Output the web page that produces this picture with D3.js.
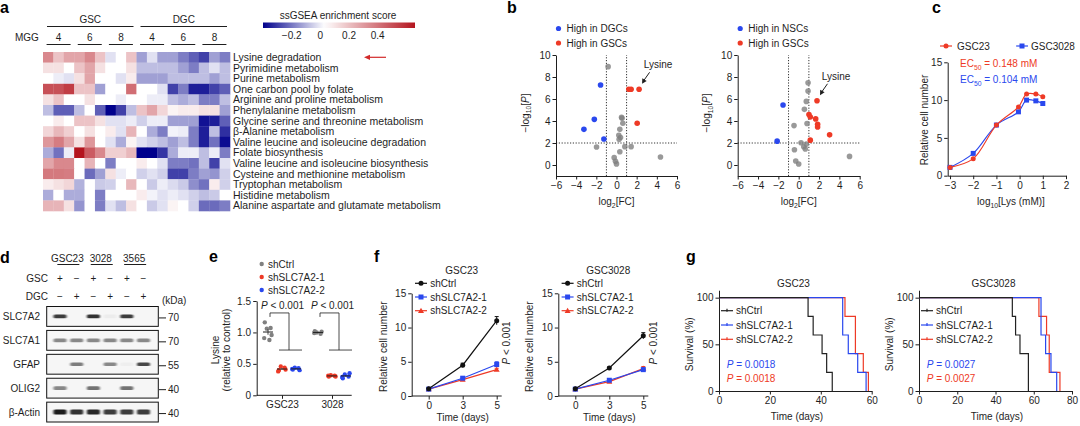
<!DOCTYPE html>
<html><head><meta charset="utf-8">
<script src="https://cdn.jsdelivr.net/npm/d3@7"></script>
<style>
html,body{margin:0;padding:0;background:#fff;}
svg{display:block;font-family:"Liberation Sans",Arial,Helvetica,sans-serif;}
</style></head><body>
<svg id="chart" width="1080" height="426"></svg>
<script>
// ================= DATA =================
// Panel a – ssGSEA heatmap
const pathways = ["Lysine degradation","Pyrimidine metabolism","Purine metabolism","One carbon pool by folate",
 "Arginine and proline metabolism","Phenylalanine metabolism","Glycine serine and threonine metabolism",
 "β-Alanine metabolism","Valine leucine and isoleucine degradation","Folate biosynthesis",
 "Valine leucine and isoleucine biosynthesis","Cysteine and methionine metabolism","Tryptophan metabolism",
 "Histidine metabolism","Alanine aspartate and glutamate metabolism"];
const heatGroups = ["GSC","DGC"];
const heatLines = ["4","6","8","4","6","8"];
const heatValues = [
 [0.35,0.19,0.27,0.27,0.35,0.19,-0.02,0.03,0.19,-0.13,-0.02,-0.13,-0.13,-0.19,-0.24,-0.29,-0.13,-0.19],
 [0.11,0.11,0.03,0.19,0.27,0.11,0.03,0.03,0.11,-0.08,-0.08,-0.08,-0.08,-0.13,-0.19,-0.08,-0.02,-0.08],
 [0.03,0.0,-0.02,0.11,0.27,0.03,0.03,-0.02,0.08,-0.13,-0.13,-0.13,-0.08,-0.08,-0.08,-0.08,-0.13,-0.08],
 [0.50,0.50,0.55,0.19,0.19,-0.13,0.03,0.03,0.42,0.03,0.03,-0.02,-0.29,-0.19,-0.35,-0.35,-0.29,-0.24],
 [0.11,0.19,0.03,0.03,0.11,0.03,0.03,0.0,0.03,0.03,0.0,0.0,-0.08,-0.11,-0.08,-0.19,-0.19,-0.08],
 [-0.08,-0.24,-0.24,-0.08,0.03,-0.24,-0.4,-0.29,-0.08,0.19,0.27,0.14,0.06,0.08,0.08,0.11,0.11,-0.13],
 [0.03,0.08,0.03,0.19,0.19,0.11,-0.02,-0.02,0.0,-0.05,0.0,0.0,-0.13,-0.13,-0.13,-0.37,-0.35,-0.24],
 [0.14,0.22,0.16,0.03,0.11,0.03,0.08,-0.02,0.23,0.03,-0.11,-0.19,0.01,0.0,-0.19,-0.35,-0.08,-0.32],
 [0.31,0.38,0.27,0.11,0.31,0.03,-0.02,-0.11,0.06,-0.02,-0.05,-0.08,-0.13,-0.08,-0.19,-0.35,-0.21,-0.38],
 [-0.11,-0.21,0.0,0.66,0.47,0.35,0.16,0.16,0.22,-0.4,-0.4,-0.31,-0.11,0.0,0.0,-0.08,0.0,-0.19],
 [0.27,0.35,0.35,0.03,0.23,0.03,-0.19,0.03,0.03,0.08,0.03,-0.02,-0.19,-0.19,-0.21,-0.08,-0.29,-0.02],
 [0.39,0.39,0.38,0.03,-0.22,-0.13,0.11,0.0,0.03,-0.05,-0.02,-0.05,-0.29,-0.29,-0.19,-0.13,-0.15,-0.05],
 [0.08,0.11,0.14,-0.1,0.03,-0.06,-0.05,0.03,0.22,0.03,-0.06,0.0,-0.03,-0.06,-0.16,-0.21,0.08,-0.05],
 [-0.11,0.03,-0.11,-0.11,0.03,-0.19,0.03,0.03,0.03,0.08,0.01,-0.02,0.0,-0.02,-0.05,-0.08,-0.06,0.03],
 [0.23,0.23,0.11,-0.15,0.03,-0.19,-0.02,-0.08,0.11,0.03,-0.06,-0.02,0.06,0.03,-0.05,-0.22,-0.22,-0.19]
];
const cbTicks = [-0.2,0,0.2,0.4];

// Panel b – volcano plots [log2 FC, -log10 P]
const volDGC_high = [[-1.58,7.27],[-2.2,4.15],[-3.23,3.24],[-1.25,2.36]];
const volDGC_gsc  = [[1.22,6.88],[1.45,6.88],[2.24,6.88],[2.05,3.8]];
const volDGC_ns   = [[-0.83,8.94],[0.5,4.33],[0.55,4.25],[0.63,3.8],[0.33,3.24],[0.23,2.7],[0.4,2.5],[0.26,2.33],
                     [-1.98,1.64],[0.83,1.67],[1.45,1.67],[0.33,1.21],[-0.23,0.67],[-0.1,0.33],[0,0.1],[4.36,0.73]];
const volNSC_high = [[-1.54,5.45],[-2.12,2.17]];
const volNSC_gsc  = [[1.8,5.84],[1.01,4.58],[1.14,4.37],[1.67,4.19],[1.86,3.7],[1.86,3.46],[3.04,2.74],[1.14,2.26]];
const volNSC_ns   = [[0.92,7.47],[0.92,6.72],[0.75,5.78],[0.56,5.06],[0.82,3.77],[-0.46,3.58],[0.23,2.02],[0.75,1.9],
                     [0.65,1.45],[-0.42,1.39],[-0.29,0.36],[0,0.09],[5,0.78],[0.5,1.66]];
const volTicksX = [-6,-4,-2,0,2,4,6];
const volTicksY = [0,2,4,6,8,10];

// Panel c – dose response
const lysLog = [-3,-2,-1,-0.05,0.3,0.7,1];
const doseGSC23 = [1.1,2.25,6.7,9.1,10.8,10.8,10.45];
const doseGSC3028 = [1.1,2.95,6.7,8.45,10.0,9.9,9.55];
const doseTicksX = [-3,-2,-1,0,1,2];
const ec50GSC23 = "0.148", ec50GSC3028 = "0.104";

// Panel d – western blot
const blotLines = ["GSC23","3028","3565"];
const gscRow = ["+","−","+","−","+","−"];
const dgcRow = ["−","+","−","+","−","+"];
const blotProteins = ["SLC7A2","SLC7A1","GFAP","OLIG2","β-Actin"];
const blotKDa = ["70","70","55","40","40"];
const blotIntensity = [
 [0.85,0,0.9,0.04,0.85,0],
 [0.5,0.5,0.5,0.5,0.5,0.5],
 [0,0.55,0,0.5,0.03,0.8],
 [0.5,0,0.6,0,0.6,0],
 [1,0.9,0.95,0.85,0.85,0.85]
];

// Panel e – lysine uptake
const eGroups = ["shCtrl","shSLC7A2-1","shSLC7A2-2"];
const eLines = ["GSC23","3028"];
const eTicksY = [0,0.5,1,1.5];
const eTickLabels = ["0","0.5","1.0","1.5"];
const lysCtrl23 = [1.16,1.07,1.06,0.96,0.91,0.88];
const lysSh1_23 = [0.40,0.44,0.46,0.41,0.38];
const lysSh2_23 = [0.41,0.43,0.44,0.40,0.42];
const lysCtrl3028 = [1.02,0.98,1.0,1.01,0.99];
const lysSh1_3028 = [0.30,0.31,0.32,0.30,0.31];
const lysSh2_3028 = [0.27,0.30,0.33,0.35,0.29];

// Panel f – growth
const days = [0,3,5];
const grow23 = {ctrl:[1.05,4.5,11.0], sh1:[1.0,2.6,4.6], sh2:[1.0,2.4,3.85]};
const grow23Err = {ctrl:[0.05,0.3,0.6], sh1:[0.05,0.15,0.4], sh2:[0.05,0.1,0.2]};
const grow3028 = {ctrl:[1.05,4.1,8.8], sh1:[1.0,2.3,3.85], sh2:[1.0,2.1,4.0]};
const grow3028Err = {ctrl:[0.05,0.15,0.45], sh1:[0.05,0.15,0.25], sh2:[0.05,0.1,0.3]};

// Panel g – survival [day, % surviving]
const km23Ctrl = [[0,100],[35,80],[37,60],[40.5,40],[42.3,20],[44.5,0]];
const km23Sh1  = [[0,100],[48.6,60],[50.8,40],[54.5,20],[57.8,0]];
const km23Sh2  = [[0,100],[49.5,80],[53.6,40],[56.7,20],[58.7,0]];
const km3028Ctrl = [[0,100],[48.8,80],[50.5,60],[52.8,40],[57.2,0]];
const km3028Sh1  = [[0,100],[63.8,60],[66.2,40],[69,20],[72,0]];
const km3028Sh2  = [[0,100],[62.7,80],[66.7,60],[68.1,20],[73.7,0]];
const kmP23 = "0.0018", kmP3028 = "0.0027";

// ================= DRAWING =================
const FONT = '"Liberation Sans", Arial, Helvetica, sans-serif';
const INK = "#1e1e1e";
const RED = "#ee3a26", BLUE = "#2a48ee", GRAY = "#808080";
const svg = d3.select("#chart");
svg.append("rect").attr("width",1080).attr("height",426).attr("fill","#fff");
const defs = svg.append("defs");

function T(g,x,y,s,o={}){
  const t=g.append("text").attr("x",x).attr("y",y).text(s)
    .attr("font-size",o.size||10).attr("fill",o.fill||INK).attr("text-anchor",o.anchor||"start");
  if(o.weight) t.attr("font-weight",o.weight);
  if(o.style) t.attr("font-style",o.style);
  if(o.rotate!=null) t.attr("transform",`rotate(${o.rotate},${x},${y})`);
  return t;
}
function rich(g,x,y,parts,o={}){
  const size=o.size||10;
  const t=g.append("text").attr("x",x).attr("y",y).attr("font-size",size)
    .attr("fill",o.fill||INK).attr("text-anchor",o.anchor||"start");
  if(o.rotate!=null) t.attr("transform",`rotate(${o.rotate},${x},${y})`);
  let shift=0;
  parts.forEach(p=>{
    const s=t.append("tspan").text(p.t);
    const want=p.sub?2.5:0;
    if(want!==shift){s.attr("dy",want-shift);shift=want;}
    if(p.sub) s.attr("font-size",size*0.68);
    if(p.i) s.attr("font-style","italic");
  });
  return t;
}
function styleAxis(a){
  a.attr("font-family",FONT).attr("font-size",10);
  a.selectAll("path.domain").attr("stroke",INK).attr("stroke-width",1);
  a.selectAll(".tick line").attr("stroke",INK).attr("stroke-width",1);
  a.selectAll(".tick text").attr("fill",INK);
  return a;
}
function panelLetter(x,y,s){ T(svg,x,y,s,{size:16,weight:"bold",fill:"#000"}); }

// ---------- Panel a ----------
(function(){
  const g=svg.append("g");
  panelLetter(0,13,"a");
  const nCols=heatValues[0].length;
  const hx=d3.scaleBand().domain(d3.range(nCols)).range([43,230]);
  const hy=d3.scaleBand().domain(pathways).range([52,211]);
  const bw=hx.bandwidth();
  const hcol=d3.scaleLinear().domain([-0.4,0.03,0.66]).range(["#00008c","#ffffff","#b4141e"]);
  g.selectAll("g.hrow").data(heatValues).join("g").attr("class","hrow")
    .each(function(row,i){
      d3.select(this).selectAll("rect").data(row).join("rect")
        .attr("x",(d,j)=>hx(j)).attr("y",hy(pathways[i]))
        .attr("width",bw+0.3).attr("height",hy.bandwidth()+0.3)
        .attr("fill",d=>hcol(d));
    });
  g.selectAll("text.plab").data(pathways).join("text").attr("class","plab")
    .attr("x",233).attr("y",d=>hy(d)+hy.bandwidth()/2).attr("dy","0.36em")
    .attr("font-size",10.5).attr("fill",INK).text(d=>d);
  const perGroup=nCols/heatGroups.length;
  heatGroups.forEach((grp,k)=>{
    const x1=hx(k*perGroup)+4, x2=hx((k+1)*perGroup-1)+bw-3;
    g.append("line").attr("x1",x1).attr("x2",x2).attr("y1",26.5).attr("y2",26.5).attr("stroke",INK);
    T(g,(x1+x2)/2,22.5,grp,{anchor:"middle"});
  });
  T(g,15,40.5,"MGG");
  const perLine=nCols/heatLines.length;
  heatLines.forEach((ln,k)=>{
    const c=hx(k*perLine)+perLine*bw/2;
    T(g,c,40.5,ln,{anchor:"middle"});
    g.append("line").attr("x1",c-12).attr("x2",c+12).attr("y1",44.5).attr("y2",44.5).attr("stroke",INK);
  });
  const cbX=d3.scaleLinear().domain([-0.4,0.66]).range([263,415]);
  const grad=defs.append("linearGradient").attr("id","cbgrad").attr("x1","0").attr("x2","1").attr("y1","0").attr("y2","0");
  d3.range(0,1.0001,0.05).forEach(t=>{
    grad.append("stop").attr("offset",t).attr("stop-color",hcol(cbX.invert(263+t*152)));
  });
  g.append("rect").attr("x",263).attr("y",22.5).attr("width",152).attr("height",5.5).attr("fill","url(#cbgrad)");
  T(g,338,19,"ssGSEA enrichment score",{anchor:"middle"});
  const fmt=d3.format("~g");
  cbTicks.forEach(v=>T(g,cbX(v),39,fmt(v),{anchor:"middle"}));
  const ay=hy(pathways[0])+hy.bandwidth()/2;
  g.append("line").attr("x1",386).attr("x2",368).attr("y1",ay).attr("y2",ay).attr("stroke","#d22a2a").attr("stroke-width",1.2);
  g.append("path").attr("d",`M364,${ay} L370,${ay-2.6} L370,${ay+2.6} Z`).attr("fill","#d22a2a");
})();

// ---------- Panel b ----------
function volcano(ax, aw, legLabel, hiNeg, hiPos, ns, lysIdx){
  const g=svg.append("g");
  const x=d3.scaleLinear().domain([-6,6]).range([ax,ax+aw]);
  const y=d3.scaleLinear().domain([-1,10]).range([176,55]);
  [-1,1].forEach(v=>g.append("line").attr("x1",x(v)).attr("x2",x(v)).attr("y1",y(-1)).attr("y2",y(10))
     .attr("stroke",INK).attr("stroke-width",0.9).attr("stroke-dasharray","1.2,1.6"));
  g.append("line").attr("x1",x(-6)).attr("x2",x(6)).attr("y1",y(2)).attr("y2",y(2))
     .attr("stroke",INK).attr("stroke-width",0.9).attr("stroke-dasharray","1.2,1.6");
  styleAxis(g.append("g").attr("transform",`translate(${ax},0)`)
     .call(d3.axisLeft(y).tickValues(volTicksY).tickSize(3.5).tickPadding(2).tickSizeOuter(0)));
  styleAxis(g.append("g").attr("transform",`translate(0,176)`)
     .call(d3.axisBottom(x).tickValues(volTicksX).tickSize(3.5).tickPadding(2.5).tickSizeOuter(0)));
  g.selectAll("circle.ns").data(ns).join("circle").attr("class","ns")
    .attr("cx",d=>x(d[0])).attr("cy",d=>y(d[1])).attr("r",2.8).attr("fill",GRAY).attr("fill-opacity",0.8);
  g.selectAll("circle.hn").data(hiNeg).join("circle").attr("class","hn")
    .attr("cx",d=>x(d[0])).attr("cy",d=>y(d[1])).attr("r",2.8).attr("fill",BLUE);
  g.selectAll("circle.hp").data(hiPos).join("circle").attr("class","hp")
    .attr("cx",d=>x(d[0])).attr("cy",d=>y(d[1])).attr("r",2.8).attr("fill",RED);
  rich(g,ax-27.5,113,[{t:"−log"},{t:"10",sub:true},{t:"["},{t:"P",i:true},{t:"]"}],{anchor:"middle",rotate:-90});
  rich(g,ax+aw/2,205,[{t:"log"},{t:"2",sub:true},{t:"[FC]"}],{anchor:"middle"});
  g.append("circle").attr("cx",ax+2.5).attr("cy",28.5).attr("r",2.6).attr("fill",BLUE);
  T(g,ax+10.5,32,legLabel);
  g.append("circle").attr("cx",ax+2.5).attr("cy",43).attr("r",2.6).attr("fill",RED);
  T(g,ax+10.5,46.5,"High in GSCs");
  const lp=hiPos[lysIdx], px=x(lp[0]), py=y(lp[1]);
  T(g,px+19,py-21,"Lysine",{anchor:"middle"});
  g.append("line").attr("x1",px+10.5).attr("y1",py-17).attr("x2",px+4.5).attr("y2",py-8.5).attr("stroke",INK).attr("stroke-width",1);
  g.append("path").attr("d",`M${px+3},${py-5.5} L${px+3.2},${py-11} L${px+7.6},${py-8.4} Z`).attr("fill",INK);
}
panelLetter(507,13,"b");
volcano(556,121,"High in DGCs",volDGC_high,volDGC_gsc,volDGC_ns,2);
volcano(737.7,122,"High in NSCs",volNSC_high,volNSC_gsc,volNSC_ns,0);

// ---------- Panel c ----------
(function(){
  const g=svg.append("g");
  panelLetter(932,13,"c");
  const x=d3.scaleLinear().domain([-3.1,2]).range([947.7,1066]);
  const y=d3.scaleLinear().domain([0,15]).range([175.7,62.3]);
  styleAxis(g.append("g").attr("transform","translate(947.7,0)")
    .call(d3.axisLeft(y).tickValues([0,5,10,15]).tickSize(3.5).tickPadding(2).tickSizeOuter(0)));
  styleAxis(g.append("g").attr("transform","translate(0,175.7)")
    .call(d3.axisBottom(x).tickValues(doseTicksX).tickFormat(d3.format("d")).tickSize(3.5).tickPadding(2.5).tickSizeOuter(0)));
  const series=[{v:doseGSC3028,c:BLUE,sq:true},{v:doseGSC23,c:RED,sq:false}];
  series.forEach(s=>{
    const pts=lysLog.map((l,i)=>[l,s.v[i]]);
    g.append("path").datum(pts).attr("fill","none").attr("stroke",s.c).attr("stroke-width",1.1)
      .attr("d",d3.line().x(d=>x(d[0])).y(d=>y(d[1])).curve(d3.curveCatmullRom.alpha(0.5)));
    g.selectAll(null).data(pts).join("rect")
      .attr("x",d=>x(d[0])-2.5).attr("y",d=>y(d[1])-2.5).attr("width",5).attr("height",5)
      .attr("rx",s.sq?0:2.5).attr("fill",s.c);
  });
  rich(g,927.5,120,[{t:"Relative cell number"}],{anchor:"middle",rotate:-90});
  rich(g,1011,205,[{t:"log"},{t:"10",sub:true},{t:"[Lys (mM)]"}],{anchor:"middle"});
  rich(g,960,67,[{t:"EC"},{t:"50",sub:true},{t:" = "+ec50GSC23+" mM"}],{fill:RED});
  rich(g,960,83,[{t:"EC"},{t:"50",sub:true},{t:" = "+ec50GSC3028+" mM"}],{fill:BLUE});
  g.append("line").attr("x1",940).attr("x2",952).attr("y1",46).attr("y2",46).attr("stroke",RED).attr("stroke-width",1.2);
  g.append("circle").attr("cx",946).attr("cy",46).attr("r",2.5).attr("fill",RED);
  T(g,957,50,"GSC23");
  g.append("line").attr("x1",1016).attr("x2",1028).attr("y1",46).attr("y2",46).attr("stroke",BLUE).attr("stroke-width",1.2);
  g.append("rect").attr("x",1019.5).attr("y",43.5).attr("width",5).attr("height",5).attr("fill",BLUE);
  T(g,1031,50,"GSC3028");
})();

// ---------- Panel d ----------
(function(){
  const g=svg.append("g");
  panelLetter(0,263,"d");
  const blur=defs.append("filter").attr("id","bandblur").attr("x","-50%").attr("y","-100%").attr("width","200%").attr("height","300%");
  blur.append("feGaussianBlur").attr("stdDeviation","1.1,0.7");
  const lane=d3.scalePoint().domain(d3.range(gscRow.length)).range([60,143.5]);
  const row=d3.scaleBand().domain(blotProteins).range([306.5,422]).paddingInner(0.17);
  blotLines.forEach((ln,k)=>{
    const c=(lane(2*k)+lane(2*k+1))/2;
    T(g,c-1,261.5,ln,{anchor:"middle"});
    g.append("line").attr("x1",c-11).attr("x2",c+11).attr("y1",264.5).attr("y2",264.5).attr("stroke",INK);
  });
  T(g,48,281.5,"GSC",{anchor:"end"});
  T(g,48,299.5,"DGC",{anchor:"end"});
  gscRow.forEach((s,i)=>T(g,lane(i),281.5,s,{anchor:"middle"}));
  dgcRow.forEach((s,i)=>T(g,lane(i),299.5,s,{anchor:"middle"}));
  T(g,162,303.5,"(kDa)");
  blotProteins.forEach((p,r)=>{
    const y0=row(p), h=row.bandwidth();
    g.append("rect").attr("x",46.7).attr("y",y0).attr("width",111.6).attr("height",h)
      .attr("fill","#f6f6f6").attr("stroke","#111").attr("stroke-width",1);
    const bh = p==="β-Actin"?5:3.6;
    blotIntensity[r].forEach((v,i)=>{
      if(v<=0) return;
      g.append("rect").attr("x",lane(i)-6.5).attr("y",y0+h/2-bh/2).attr("width",13).attr("height",bh)
        .attr("rx",1.5).attr("fill","#1a1a1a").attr("opacity",v).attr("filter","url(#bandblur)");
    });
    T(g,40,y0+h/2+3.6,p,{anchor:"end"});
    g.append("line").attr("x1",159).attr("x2",166).attr("y1",y0+h/2+1.5).attr("y2",y0+h/2+1.5).attr("stroke",INK);
    T(g,168,y0+h/2+5,blotKDa[r]);
  });
})();

// ---------- Panel e ----------
(function(){
  const g=svg.append("g");
  panelLetter(209,262,"e");
  const y=d3.scaleLinear().domain([0,1.5]).range([395.3,301]);
  const xc=d3.scalePoint().domain(eLines).range([282,332]);
  const xs=d3.scalePoint().domain(eGroups).range([-14,14]);
  const colors={"shCtrl":GRAY,"shSLC7A2-1":RED,"shSLC7A2-2":BLUE};
  const jit=[-3.2,2.6,-1.2,3.6,-3.8,1.4];
  const sets=[["GSC23","shCtrl",lysCtrl23],["GSC23","shSLC7A2-1",lysSh1_23],["GSC23","shSLC7A2-2",lysSh2_23],
              ["3028","shCtrl",lysCtrl3028],["3028","shSLC7A2-1",lysSh1_3028],["3028","shSLC7A2-2",lysSh2_3028]];
  const ya=styleAxis(g.append("g").attr("transform","translate(256.7,0)")
    .call(d3.axisLeft(y).tickValues(eTicksY).tickFormat(()=>"").tickSize(3.5).tickSizeOuter(0)));
  eTicksY.forEach((v,i)=>T(g,251,y(v)+3.6,eTickLabels[i],{anchor:"end"}));
  const xa=g.append("g").attr("transform","translate(0,395.3)")
    .call(d3.axisBottom(xc).tickSize(3.5).tickPadding(2.5).tickSizeOuter(0));
  styleAxis(xa); xa.select("path.domain").remove();
  g.append("line").attr("x1",256.7).attr("x2",351.7).attr("y1",395.3).attr("y2",395.3).attr("stroke",INK);
  sets.forEach(([ln,grp,vals])=>{
    const cx=xc(ln)+xs(grp);
    const m=d3.mean(vals), sd=d3.deviation(vals)/Math.sqrt(vals.length);
    g.selectAll(null).data(vals).join("circle")
      .attr("cx",(d,i)=>cx+jit[i%jit.length]).attr("cy",d=>y(d)).attr("r",2.2).attr("fill",colors[grp]);
    g.append("line").attr("x1",cx-5).attr("x2",cx+5).attr("y1",y(m)).attr("y2",y(m)).attr("stroke",INK).attr("stroke-width",1);
    g.append("line").attr("x1",cx).attr("x2",cx).attr("y1",y(m-sd)).attr("y2",y(m+sd)).attr("stroke",INK).attr("stroke-width",0.8);
  });
  eLines.forEach(ln=>{
    const xl=xc(ln)+xs("shCtrl")+2, xm=xc(ln)+(xs("shSLC7A2-1")+xs("shSLC7A2-2"))/2;
    const yt=y(1.31), yb=y(0.72);
    g.append("path").attr("d",`M${xl},${yt+4}V${yt}H${xm}V${yb}`).attr("fill","none").attr("stroke",INK).attr("stroke-width",0.8);
    g.append("line").attr("x1",xc(ln)+xs("shSLC7A2-1")-3).attr("x2",xc(ln)+xs("shSLC7A2-2")+6)
      .attr("y1",yb).attr("y2",yb).attr("stroke",INK).attr("stroke-width",0.8);
    rich(g,xc(ln)+0.5,309,[{t:"P",i:true},{t:" < 0.001"}],{anchor:"middle"});
  });
  rich(g,218.5,350,[{t:"Lysine"}],{anchor:"middle",rotate:-90});
  rich(g,230,350,[{t:"(relative to control)"}],{anchor:"middle",rotate:-90});
  eGroups.forEach((grp,i)=>{
    const yy=264+i*13;
    g.append("circle").attr("cx",261.7).attr("cy",yy).attr("r",2.2).attr("fill",colors[grp]);
    T(g,268,yy+3.6,grp);
  });
})();

// ---------- Panel f ----------
function marker(g,type,x,y,c){
  if(type==="circle") g.append("circle").attr("cx",x).attr("cy",y).attr("r",2.5).attr("fill",c);
  else if(type==="square") g.append("rect").attr("x",x-2.5).attr("y",y-2.5).attr("width",5).attr("height",5).attr("fill",c);
  else g.append("path").attr("d",`M${x},${y-3} L${x+3},${y+2.2} L${x-3},${y+2.2} Z`).attr("fill",c);
}
function growth(ax,title,vals,errs){
  const g=svg.append("g");
  const y=d3.scaleLinear().domain([0,15]).range([396,293.3]);
  const x=d3.scalePoint().domain(days).range([ax+17,ax+85]);
  styleAxis(g.append("g").attr("transform",`translate(${ax},0)`)
    .call(d3.axisLeft(y).tickValues([0,5,10,15]).tickSize(3.5).tickPadding(2).tickSizeOuter(0)));
  const xa=g.append("g").attr("transform","translate(0,396)")
    .call(d3.axisBottom(x).tickSize(3.5).tickPadding(2.5).tickSizeOuter(0));
  styleAxis(xa); xa.select("path.domain").remove();
  g.append("line").attr("x1",ax).attr("x2",ax+90).attr("y1",396).attr("y2",396).attr("stroke",INK);
  const ser=[{k:"ctrl",c:"#111",m:"circle",lab:"shCtrl"},{k:"sh1",c:BLUE,m:"square",lab:"shSLC7A2-1"},{k:"sh2",c:RED,m:"tri",lab:"shSLC7A2-2"}];
  [ser[2],ser[1],ser[0]].forEach(s=>{
    const pts=days.map((d,i)=>[d,vals[s.k][i],errs[s.k][i]]);
    g.append("path").datum(pts).attr("fill","none").attr("stroke",s.c).attr("stroke-width",1.2)
      .attr("d",d3.line().x(d=>x(d[0])).y(d=>y(d[1])));
    pts.forEach(p=>{
      g.append("line").attr("x1",x(p[0])).attr("x2",x(p[0])).attr("y1",y(p[1]-p[2])).attr("y2",y(p[1]+p[2])).attr("stroke",s.c);
      g.append("line").attr("x1",x(p[0])-2).attr("x2",x(p[0])+2).attr("y1",y(p[1]+p[2])).attr("y2",y(p[1]+p[2])).attr("stroke",s.c);
      marker(g,s.m,x(p[0]),y(p[1]),s.c);
    });
  });
  ser.forEach((s,i)=>{
    const yy=283.3+i*13.7;
    g.append("line").attr("x1",ax+3.3).attr("x2",ax+15.3).attr("y1",yy).attr("y2",yy).attr("stroke",s.c).attr("stroke-width",1.2);
    marker(g,s.m,ax+9.3,yy,s.c);
    T(g,ax+18.5,yy+3.6,s.lab);
  });
  T(g,ax+50,274,title,{anchor:"middle"});
  rich(g,ax-24.8,346.7,[{t:"Relative cell number"}],{anchor:"middle",rotate:-90});
  T(g,ax+51,420.5,"Time (days)",{anchor:"middle"});
  rich(g,ax+98.5,343,[{t:"P",i:true},{t:" < 0.001"}],{anchor:"middle",rotate:-90});
}
panelLetter(374,262,"f");
growth(411.7,"GSC23",grow23,grow23Err);
growth(558.3,"GSC3028",grow3028,grow3028Err);

// ---------- Panel g ----------
function km(ax,xmax,xw,ticks,title,ctrl,sh1,sh2,pval){
  const g=svg.append("g");
  const y=d3.scaleLinear().domain([0,108]).range([391,290.2]);
  const x=d3.scaleLinear().domain([0,xmax]).range([ax,ax+xw]);
  styleAxis(g.append("g").attr("transform",`translate(${ax},0)`)
    .call(d3.axisLeft(y).tickValues([0,50,100]).tickSize(3.5).tickPadding(2).tickSizeOuter(0)));
  styleAxis(g.append("g").attr("transform","translate(0,391)")
    .call(d3.axisBottom(x).tickValues(ticks).tickSize(3.5).tickPadding(2.5).tickSizeOuter(0)));
  const line=d3.line().x(d=>x(d[0])).y(d=>y(d[1])).curve(d3.curveStepAfter);
  [[sh2,RED],[sh1,BLUE],[ctrl,"#222"]].forEach(([d,c])=>{
    g.append("path").datum(d).attr("fill","none").attr("stroke",c).attr("stroke-width",1.2).attr("d",line);
  });
  const leg=[["shCtrl","#222"],["shSLC7A2-1",BLUE],["shSLC7A2-2",RED]];
  leg.forEach(([lab,c],i)=>{
    const yy=310.7+i*14.3;
    g.append("line").attr("x1",ax+2).attr("x2",ax+14).attr("y1",yy).attr("y2",yy).attr("stroke",c).attr("stroke-width",1.2);
    g.append("line").attr("x1",ax+8).attr("x2",ax+8).attr("y1",yy-2).attr("y2",yy+1).attr("stroke",c).attr("stroke-width",1.2);
    T(g,ax+17,yy+3.6,lab);
  });
  rich(g,ax+7.7,368,[{t:"P",i:true},{t:" = "+pval}],{fill:BLUE});
  rich(g,ax+7.7,382.3,[{t:"P",i:true},{t:" = "+pval}],{fill:RED});
  T(g,ax+74.5,287,title,{anchor:"middle"});
  rich(g,ax-26.2,344.3,[{t:"Survival (%)"}],{anchor:"middle",rotate:-90});
  T(g,ax+78,420,"Time (days)",{anchor:"middle"});
}
panelLetter(686,262,"g");
km(719,60,152.7,[0,20,40,60],"GSC23",km23Ctrl,km23Sh1,km23Sh2,kmP23);
km(919,80,153,[0,20,40,60,80],"GSC3028",km3028Ctrl,km3028Sh1,km3028Sh2,kmP3028);
</script>
</body></html>
